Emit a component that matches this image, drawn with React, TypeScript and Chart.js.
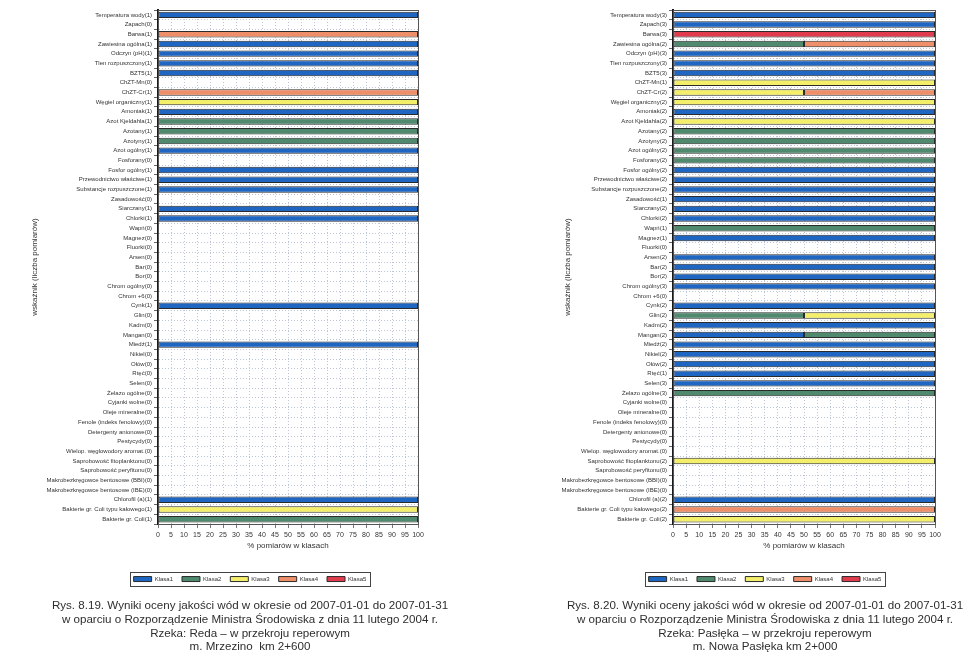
import React, { useEffect, useRef } from "react";
import { Chart, registerables } from "chart.js";

Chart.register(...registerables);
Chart.defaults.font.family = "'Liberation Sans', Arial, sans-serif";

// ---- categories (indicators) ----
const indicatorNames = [
  "Temperatura wody", "Zapach", "Barwa", "Zawiesina ogólna", "Odczyn (pH)",
  "Tlen rozpuszczony", "BZT5", "ChZT-Mn", "ChZT-Cr", "Węgiel organiczny",
  "Amoniak", "Azot Kjeldahla", "Azotany", "Azotyny", "Azot ogólny",
  "Fosforany", "Fosfor ogólny", "Przewodnictwo właściwe", "Substancje rozpuszczone", "Zasadowość",
  "Siarczany", "Chlorki", "Wapń", "Magnez", "Fluorki",
  "Arsen", "Bar", "Bor", "Chrom ogólny", "Chrom +6",
  "Cynk", "Glin", "Kadm", "Mangan", "Miedź",
  "Nikiel", "Ołów", "Rtęć", "Selen", "Żelazo ogólne",
  "Cyjanki wolne", "Oleje mineralne", "Fenole (indeks fenolowy)", "Detergenty anionowe", "Pestycydy",
  "Wielop. węglowodory aromat.", "Saprobowość fitoplanktonu", "Saprobowość peryfitonu", "Makrobezkręgowce bentosowe (BBI)", "Makrobezkręgowce bentosowe (IBE)",
  "Chlorofil (a)", "Bakterie gr. Coli typu kałowego", "Bakterie gr. Coli",
];

// ---- number of measurements ----
const countsReda = [
  1, 0, 1, 1, 1, 1, 1, 0, 1, 1,
  1, 1, 1, 1, 1, 0, 1, 1, 1, 0,
  1, 1, 0, 0, 0, 0, 0, 0, 0, 0,
  1, 0, 0, 0, 1, 0, 0, 0, 0, 0,
  0, 0, 0, 0, 0, 0, 0, 0, 0, 0,
  1, 1, 1,
];
const countsPasleka = [
  3, 3, 3, 2, 3, 3, 3, 1, 2, 2,
  2, 2, 2, 2, 2, 2, 2, 2, 2, 1,
  2, 2, 1, 1, 0, 2, 2, 2, 3, 0,
  2, 2, 2, 2, 2, 2, 2, 1, 3, 3,
  0, 0, 0, 0, 0, 0, 2, 0, 0, 0,
  2, 2, 2,
];

// ---- % of measurements in classes: Reda ----
const redaKlasa1 = [
  100, 0, 0, 100, 100, 100, 100, 0, 0, 0,
  100, 0, 0, 0, 100, 0, 100, 100, 100, 0,
  100, 100, 0, 0, 0, 0, 0, 0, 0, 0,
  100, 0, 0, 0, 100, 0, 0, 0, 0, 0,
  0, 0, 0, 0, 0, 0, 0, 0, 0, 0,
  100, 0, 0,
];
const redaKlasa2 = [
  0, 0, 0, 0, 0, 0, 0, 0, 0, 0,
  0, 100, 100, 100, 0, 0, 0, 0, 0, 0,
  0, 0, 0, 0, 0, 0, 0, 0, 0, 0,
  0, 0, 0, 0, 0, 0, 0, 0, 0, 0,
  0, 0, 0, 0, 0, 0, 0, 0, 0, 0,
  0, 0, 100,
];
const redaKlasa3 = [
  0, 0, 0, 0, 0, 0, 0, 0, 0, 100,
  0, 0, 0, 0, 0, 0, 0, 0, 0, 0,
  0, 0, 0, 0, 0, 0, 0, 0, 0, 0,
  0, 0, 0, 0, 0, 0, 0, 0, 0, 0,
  0, 0, 0, 0, 0, 0, 0, 0, 0, 0,
  0, 100, 0,
];
const redaKlasa4 = [
  0, 0, 100, 0, 0, 0, 0, 0, 100, 0,
  0, 0, 0, 0, 0, 0, 0, 0, 0, 0,
  0, 0, 0, 0, 0, 0, 0, 0, 0, 0,
  0, 0, 0, 0, 0, 0, 0, 0, 0, 0,
  0, 0, 0, 0, 0, 0, 0, 0, 0, 0,
  0, 0, 0,
];
const redaKlasa5 = [
  0, 0, 0, 0, 0, 0, 0, 0, 0, 0,
  0, 0, 0, 0, 0, 0, 0, 0, 0, 0,
  0, 0, 0, 0, 0, 0, 0, 0, 0, 0,
  0, 0, 0, 0, 0, 0, 0, 0, 0, 0,
  0, 0, 0, 0, 0, 0, 0, 0, 0, 0,
  0, 0, 0,
];

// ---- % of measurements in classes: Pasłęka ----
const paslekaKlasa1 = [
  100, 100, 0, 0, 100, 100, 100, 0, 0, 0,
  100, 0, 0, 0, 0, 0, 100, 100, 100, 100,
  100, 100, 0, 100, 0, 100, 100, 100, 100, 0,
  100, 0, 100, 50, 100, 100, 100, 100, 100, 0,
  0, 0, 0, 0, 0, 0, 0, 0, 0, 0,
  100, 0, 0,
];
const paslekaKlasa2 = [
  0, 0, 0, 50, 0, 0, 0, 0, 0, 0,
  0, 0, 100, 100, 100, 100, 0, 0, 0, 0,
  0, 0, 100, 0, 0, 0, 0, 0, 0, 0,
  0, 50, 0, 50, 0, 0, 0, 0, 0, 100,
  0, 0, 0, 0, 0, 0, 0, 0, 0, 0,
  0, 0, 0,
];
const paslekaKlasa3 = [
  0, 0, 0, 0, 0, 0, 0, 100, 50, 100,
  0, 100, 0, 0, 0, 0, 0, 0, 0, 0,
  0, 0, 0, 0, 0, 0, 0, 0, 0, 0,
  0, 50, 0, 0, 0, 0, 0, 0, 0, 0,
  0, 0, 0, 0, 0, 0, 100, 0, 0, 0,
  0, 0, 100,
];
const paslekaKlasa4 = [
  0, 0, 0, 50, 0, 0, 0, 0, 50, 0,
  0, 0, 0, 0, 0, 0, 0, 0, 0, 0,
  0, 0, 0, 0, 0, 0, 0, 0, 0, 0,
  0, 0, 0, 0, 0, 0, 0, 0, 0, 0,
  0, 0, 0, 0, 0, 0, 0, 0, 0, 0,
  0, 100, 0,
];
const paslekaKlasa5 = [
  0, 0, 100, 0, 0, 0, 0, 0, 0, 0,
  0, 0, 0, 0, 0, 0, 0, 0, 0, 0,
  0, 0, 0, 0, 0, 0, 0, 0, 0, 0,
  0, 0, 0, 0, 0, 0, 0, 0, 0, 0,
  0, 0, 0, 0, 0, 0, 0, 0, 0, 0,
  0, 0, 0,
];

const classNames = ["Klasa1", "Klasa2", "Klasa3", "Klasa4", "Klasa5"];
const classColors = ["#1f66c2", "#4f8a6e", "#f3ef6a", "#ee8f6a", "#e03c4e"];

const xAxisTitle = "% pomiarów w klasach";
const yAxisTitle = "wskaźnik (liczba pomiarów)";

const captionReda = [
  "Rys. 8.19. Wyniki oceny jakości wód w okresie od 2007-01-01 do 2007-01-31",
  "w oparciu o Rozporządzenie Ministra Środowiska z dnia 11 lutego 2004 r.",
  "Rzeka: Reda – w przekroju reperowym",
  "m. Mrzezino  km 2+600",
];
const captionPasleka = [
  "Rys. 8.20. Wyniki oceny jakości wód w okresie od 2007-01-01 do 2007-01-31",
  "w oparciu o Rozporządzenie Ministra Środowiska z dnia 11 lutego 2004 r.",
  "Rzeka: Pasłęka – w przekroju reperowym",
  "m. Nowa Pasłęka km 2+000",
];

const framePlugin = {
  id: "frame",
  beforeDatasetsDraw(chart: any) {
    const { ctx, chartArea: a } = chart;
    ctx.save();
    ctx.strokeStyle = "#555";
    ctx.lineWidth = 1;
    ctx.strokeRect(Math.round(a.left) + 0.5, Math.round(a.top) + 0.5, Math.round(a.right - a.left), Math.round(a.bottom - a.top));
    ctx.restore();
  },
  afterDraw(chart: any) {
    const { ctx, legend } = chart;
    if (legend && legend.legendHitBoxes && legend.legendHitBoxes.length) {
      const hb = legend.legendHitBoxes;
      const l = Math.min(...hb.map((h: any) => h.left)) - 4;
      const r = Math.max(...hb.map((h: any) => h.left + h.width)) + 3;
      const t = Math.min(...hb.map((h: any) => h.top)) - 4;
      const b = Math.max(...hb.map((h: any) => h.top + h.height)) + 4;
      ctx.save();
      ctx.strokeStyle = "#444";
      ctx.lineWidth = 1;
      ctx.strokeRect(Math.round(l) + 0.5, Math.round(t) + 0.5, Math.round(r - l), Math.round(b - t));
      ctx.restore();
    }
  },
};

type Props = {
  counts: number[];
  series: number[][];
  caption: string[];
  left: number;
  width: number;
  yAxisWidth: number;
  rightWidth: number;
  yTitlePad: number;
};

function QualityChart({ counts, series, caption, left, width, yAxisWidth, rightWidth, yTitlePad }: Props) {
  const ref = useRef<HTMLCanvasElement>(null);
  useEffect(() => {
    const labels = indicatorNames.map((n, i) => `${n}(${counts[i]})`);
    const grid = "#bcc4d8";
    const chart = new Chart(ref.current as HTMLCanvasElement, {
      type: "bar",
      data: {
        labels,
        datasets: classNames.map((name, i) => ({
          label: name,
          data: series[i].map((v) => (v === 0 ? null : v)),
          backgroundColor: classColors[i],
          borderColor: "#2a2a2a",
          borderWidth: 1,
          borderSkipped: false,
          barPercentage: 0.66,
          categoryPercentage: 1,
          yAxisID: "y",
        })),
      },
      options: {
        indexAxis: "y",
        responsive: false,
        animation: false,
        devicePixelRatio: 1,
        layout: { padding: { top: 10, left: 0, right: 0, bottom: 5 } },
        scales: {
          x: {
            type: "linear",
            stacked: true,
            min: 0,
            max: 100,
            afterFit: (s: any) => { s.height = 43; },
            ticks: { stepSize: 5, font: { size: 7 }, color: "#333", padding: 3, maxRotation: 0, autoSkip: false },
            grid: { color: grid, tickLength: 4, tickColor: "#777" },
            border: { color: "#333", width: 1, dash: [1, 2] },
            title: { display: true, text: xAxisTitle, font: { size: 8 }, color: "#333", padding: { top: 0, bottom: 16.2 } },
          },
          y: {
            type: "category",
            stacked: true,
            position: "left",
            afterFit: (s: any) => { s.width = yAxisWidth; },
            ticks: { autoSkip: false, font: { size: 6 }, color: "#333", padding: 2 },
            grid: { color: grid, tickLength: 4, tickColor: "#666" },
            border: { color: "#1a1a1a", width: 2, dash: [1, 2] },
            title: { display: true, text: yAxisTitle, font: { size: 8 }, color: "#333", padding: { top: yTitlePad, bottom: 0 } },
          },
          yRight: {
            type: "category",
            position: "right",
            display: true,
            afterFit: (s: any) => { s.width = rightWidth; },
            ticks: { display: false },
            grid: { display: false, drawOnChartArea: false, drawTicks: false },
            border: { display: false },
          },
        },
        plugins: {
          legend: {
            position: "bottom",
            labels: { boxWidth: 18, boxHeight: 5, padding: 9, color: "#333", font: { size: 6 } },
          },
          title: {
            display: true,
            position: "bottom",
            text: caption,
            color: "#2e2e2e",
            font: { size: 11.6, weight: "normal", lineHeight: "13.7px" },
            padding: { top: 7.15, bottom: 0 },
          },
          tooltip: { enabled: false },
        },
      } as any,
      plugins: [framePlugin],
    });
    return () => chart.destroy();
  }, []);
  return (
    <canvas
      ref={ref}
      width={width}
      height={659}
      style={{ position: "absolute", left, top: 0, width, height: 659 }}
    />
  );
}

export default function App() {
  return (
    <div style={{ position: "absolute", left: 0, top: 0, width: 980, height: 659, background: "#fff", overflow: "hidden" }}>
      <QualityChart
        counts={countsReda}
        series={[redaKlasa1, redaKlasa2, redaKlasa3, redaKlasa4, redaKlasa5]}
        caption={captionReda}
        left={0}
        width={500}
        yAxisWidth={158}
        rightWidth={82}
        yTitlePad={30}
      />
      <QualityChart
        counts={countsPasleka}
        series={[paslekaKlasa1, paslekaKlasa2, paslekaKlasa3, paslekaKlasa4, paslekaKlasa5]}
        caption={captionPasleka}
        left={545}
        width={440}
        yAxisWidth={128}
        rightWidth={50}
        yTitlePad={18}
      />
    </div>
  );
}
